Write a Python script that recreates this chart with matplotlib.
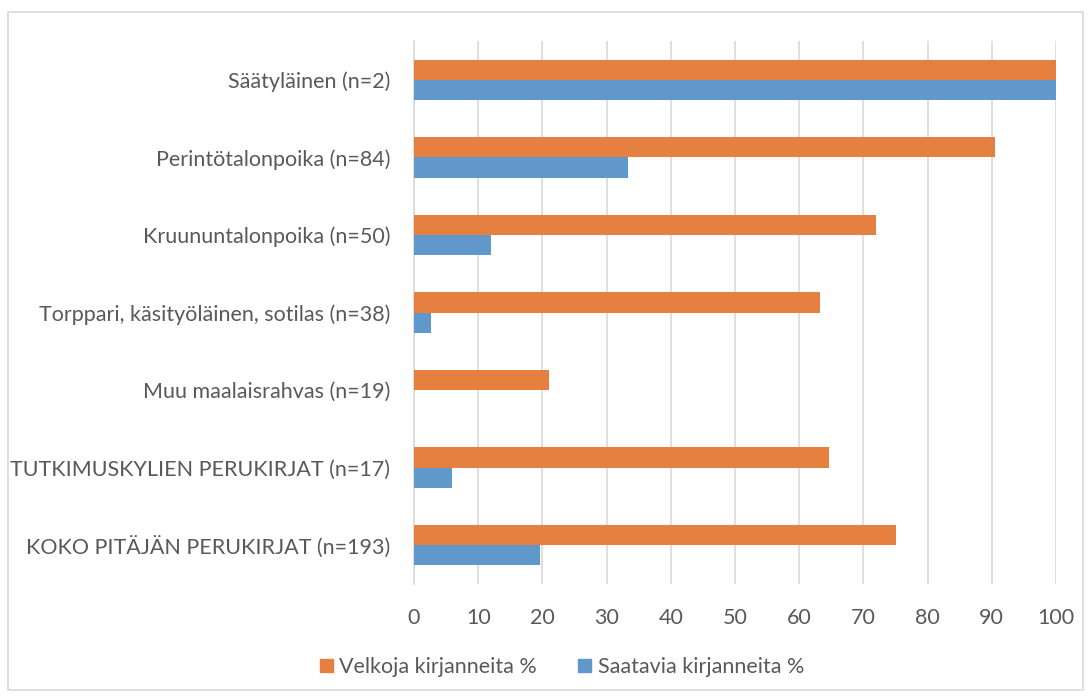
import numpy as np
import matplotlib
matplotlib.use("Agg")
import matplotlib.pyplot as plt
from matplotlib.patches import Rectangle, Patch

plt.rcParams["font.family"] = ["Lato", "DejaVu Sans"]

# ── Datos ─────────────────────────────────────────────
categories = [
    "Säätyläinen (n=2)",
    "Perintötalonpoika (n=84)",
    "Kruununtalonpoika (n=50)",
    "Torppari, käsityöläinen, sotilas (n=38)",
    "Muu maalaisrahvas (n=19)",
    "TUTKIMUSKYLIEN PERUKIRJAT (n=17)",
    "KOKO PITÄJÄN PERUKIRJAT (n=193)",
]
velkoja = [100, 90.5, 72.0, 63.2, 21.1, 64.7, 75.1]
saatavia = [100, 33.3, 12.0, 2.6, 0, 5.9, 19.7]
series_names = ["Velkoja kirjanneita %", "Saatavia kirjanneita %"]
xticks = list(range(0, 101, 10))

ORANGE = "#E58040"
BLUE = "#6198CB"
GRID = "#D9D9D9"
TXT = "#595959"
FS = 15.5

fig = plt.figure(figsize=(10.91, 6.99), dpi=100)
fig.patches.append(Rectangle((8 / 1091, 1 - 690 / 699), 1075 / 1091, 678 / 699,
                             transform=fig.transFigure, fill=False,
                             edgecolor=GRID, lw=1.2))

ax = fig.add_axes([414 / 1091, 1 - 584 / 699, 642 / 1091, 543 / 699])

n = len(categories)
y = np.arange(n)[::-1]
h = 0.26
ax.barh(y + h / 2, velkoja, height=h, color=ORANGE, zorder=3)
ax.barh(y - h / 2, saatavia, height=h, color=BLUE, zorder=3)

ax.set_xlim(0, 100)
ax.set_ylim(-0.5, n - 0.5)
ax.set_xticks(xticks)
ax.set_yticks(y)
ax.set_yticklabels(categories)
ax.tick_params(length=0, labelsize=FS, colors=TXT)
ax.tick_params(axis="y", pad=17)
ax.tick_params(axis="x", pad=17)
ax.grid(axis="x", color=GRID, lw=1.2, zorder=0)
for s in ["top", "right", "bottom"]:
    ax.spines[s].set_visible(False)
ax.spines["left"].set_color(GRID)
ax.spines["left"].set_linewidth(1.2)

handles = [Patch(color=ORANGE), Patch(color=BLUE)]
fig.legend(handles, series_names, loc="center", bbox_to_anchor=(562 / 1091, 1 - 667 / 699),
           ncol=2, frameon=False, fontsize=FS, labelcolor=TXT,
           handlelength=0.6, handleheight=0.6, handletextpad=0.3, columnspacing=1.9)

fig.savefig("out.png", dpi=100)
